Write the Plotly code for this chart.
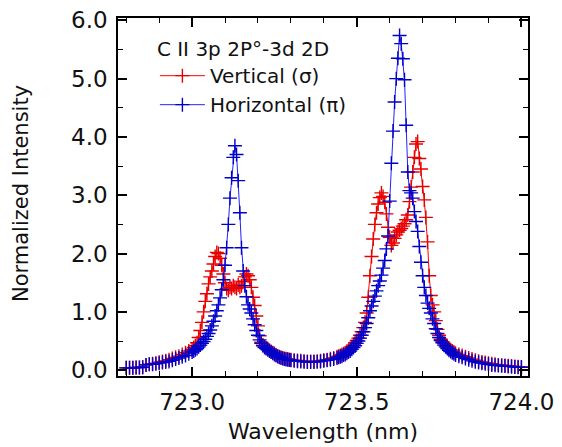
import plotly.graph_objects as go

# ---- data ----
wavelength_nm = [
    # 722.80 - 723.00 (0.01 nm)
    722.80, 722.81, 722.82, 722.83, 722.84, 722.85, 722.86, 722.87, 722.88, 722.89,
    722.90, 722.91, 722.92, 722.93, 722.94, 722.95, 722.96, 722.97, 722.98, 722.99,
    723.00,
    # 723.005 - 723.300 (0.005 nm)
    723.005, 723.010, 723.015, 723.020, 723.025, 723.030, 723.035, 723.040, 723.045, 723.050,
    723.055, 723.060, 723.065, 723.070, 723.075, 723.080, 723.085, 723.090, 723.095, 723.100,
    723.105, 723.110, 723.115, 723.120, 723.125, 723.130, 723.135, 723.140, 723.145, 723.150,
    723.155, 723.160, 723.165, 723.170, 723.175, 723.180, 723.185, 723.190, 723.195, 723.200,
    723.205, 723.210, 723.215, 723.220, 723.225, 723.230, 723.235, 723.240, 723.245, 723.250,
    723.255, 723.260, 723.265, 723.270, 723.275, 723.280, 723.285, 723.290, 723.295, 723.300,
    # 723.31 - 723.44 (0.01 nm)
    723.31, 723.32, 723.33, 723.34, 723.35, 723.36, 723.37, 723.38, 723.39, 723.40,
    723.41, 723.42, 723.43, 723.44,
    # 723.445 - 723.800 (0.005 nm)
    723.445, 723.450, 723.455, 723.460, 723.465, 723.470, 723.475, 723.480, 723.485, 723.490,
    723.495, 723.500, 723.505, 723.510, 723.515, 723.520, 723.525, 723.530, 723.535, 723.540,
    723.545, 723.550, 723.555, 723.560, 723.565, 723.570, 723.575, 723.580, 723.585, 723.590,
    723.595, 723.600, 723.605, 723.610, 723.615, 723.620, 723.625, 723.630, 723.635, 723.640,
    723.645, 723.650, 723.655, 723.660, 723.665, 723.670, 723.675, 723.680, 723.685, 723.690,
    723.695, 723.700, 723.705, 723.710, 723.715, 723.720, 723.725, 723.730, 723.735, 723.740,
    723.745, 723.750, 723.755, 723.760, 723.765, 723.770, 723.775, 723.780, 723.785, 723.790,
    723.795, 723.800,
    # 723.81 - 724.00 (0.01 nm)
    723.81, 723.82, 723.83, 723.84, 723.85, 723.86, 723.87, 723.88, 723.89, 723.90,
    723.91, 723.92, 723.93, 723.94, 723.95, 723.96, 723.97, 723.98, 723.99, 724.00,
]

vertical_sigma = [
    0.04, 0.04, 0.04, 0.045, 0.045, 0.05, 0.09, 0.10, 0.11, 0.12,
    0.135, 0.15, 0.16, 0.18, 0.20, 0.22, 0.24, 0.27, 0.30, 0.33,
    0.36,
    0.39, 0.42, 0.47, 0.56, 0.68, 0.82, 1.00, 1.18, 1.31, 1.48,
    1.60, 1.70, 1.82, 1.95, 2.02, 2.00, 1.92, 1.80, 1.65, 1.50,
    1.40, 1.37, 1.42, 1.40, 1.45, 1.42, 1.40, 1.46, 1.42, 1.45,
    1.52, 1.60, 1.65, 1.62, 1.55, 1.42, 1.25, 1.11, 0.93, 0.76,
    0.59, 0.48, 0.43, 0.40, 0.38, 0.36, 0.34, 0.32, 0.30, 0.285,
    0.26, 0.245, 0.23, 0.22, 0.21, 0.20, 0.195, 0.19, 0.185, 0.18,
    0.17, 0.165, 0.16, 0.155, 0.15, 0.15, 0.15, 0.155, 0.16, 0.17,
    0.18, 0.195, 0.21, 0.23,
    0.24, 0.25, 0.27, 0.28, 0.30, 0.32, 0.34, 0.37, 0.40, 0.43,
    0.47, 0.51, 0.55, 0.60, 0.66, 0.73, 0.82, 0.98, 1.25, 1.62,
    1.95, 2.25, 2.50, 2.70, 2.85, 2.96, 3.04, 2.98, 2.88, 2.68,
    2.45, 2.28, 2.14, 2.18, 2.26, 2.32, 2.37, 2.40, 2.43, 2.47,
    2.51, 2.58, 2.66, 2.89, 3.14, 3.40, 3.65, 3.88, 3.92, 3.63,
    3.45, 3.15, 2.92, 2.62, 2.20, 1.62, 1.28, 1.12, 1.00, 0.85,
    0.70, 0.60, 0.53, 0.49, 0.46, 0.43, 0.40, 0.37, 0.35, 0.33,
    0.31, 0.29,
    0.27, 0.25, 0.23, 0.21, 0.19, 0.17, 0.155, 0.14, 0.13, 0.12,
    0.11, 0.10, 0.09, 0.085, 0.08, 0.075, 0.07, 0.065, 0.06, 0.055,
]

horizontal_pi = [
    0.04, 0.04, 0.04, 0.045, 0.045, 0.05, 0.09, 0.10, 0.10, 0.11,
    0.12, 0.13, 0.14, 0.15, 0.17, 0.19, 0.21, 0.23, 0.25, 0.28,
    0.31,
    0.33, 0.35, 0.37, 0.40, 0.43, 0.46, 0.49, 0.53, 0.58, 0.63,
    0.69, 0.76, 0.84, 0.93, 1.02, 1.12, 1.24, 1.38, 1.55, 1.80,
    2.10, 2.50, 2.95, 3.30, 3.65, 3.85, 3.70, 3.25, 2.70, 2.10,
    1.70, 1.45, 1.26, 1.12, 1.05, 0.98, 0.88, 0.78, 0.68, 0.60,
    0.52, 0.46, 0.42, 0.39, 0.37, 0.35, 0.33, 0.31, 0.29, 0.27,
    0.25, 0.235, 0.22, 0.21, 0.20, 0.19, 0.185, 0.18, 0.175, 0.17,
    0.16, 0.155, 0.15, 0.145, 0.14, 0.14, 0.14, 0.145, 0.15, 0.16,
    0.17, 0.18, 0.19, 0.21,
    0.22, 0.23, 0.24, 0.26, 0.27, 0.29, 0.31, 0.33, 0.36, 0.39,
    0.42, 0.46, 0.50, 0.55, 0.60, 0.66, 0.73, 0.80, 0.90, 1.02,
    1.10, 1.18, 1.27, 1.36, 1.45, 1.53, 1.63, 1.75, 1.88, 2.08,
    2.30, 2.90, 3.55, 4.10, 4.60, 5.00, 5.35, 5.74, 5.60, 5.34,
    4.98, 4.20, 3.40, 3.08, 3.04, 2.95, 2.72, 2.55, 2.38, 2.12,
    1.85, 1.62, 1.42, 1.28, 1.15, 1.06, 0.98, 0.88, 0.80, 0.71,
    0.63, 0.56, 0.51, 0.47, 0.43, 0.40, 0.37, 0.34, 0.32, 0.30,
    0.28, 0.26,
    0.24, 0.22, 0.20, 0.18, 0.16, 0.145, 0.13, 0.12, 0.11, 0.10,
    0.09, 0.085, 0.08, 0.075, 0.07, 0.065, 0.06, 0.055, 0.05, 0.05,
]

assert len(wavelength_nm) == len(vertical_sigma) == len(horizontal_pi)

series_names = ["Vertical (σ)", "Horizontal (π)"]
legend_title = "C II 3p 2P°-3d 2D"
x_title = "Wavelength (nm)"
y_title = "Normalized Intensity"

FONT = "DejaVu Sans"
TXT = "#111111"

fig = go.Figure()
fig.add_trace(go.Scatter(
    x=wavelength_nm, y=vertical_sigma, name=series_names[0],
    mode="lines+markers",
    line=dict(color="#ff0000", width=1),
    marker=dict(symbol="cross-thin", size=10, color="#e80000",
                line=dict(color="#e80000", width=1.4)),
))
fig.add_trace(go.Scatter(
    x=wavelength_nm, y=horizontal_pi, name=series_names[1],
    mode="lines+markers",
    line=dict(color="#2222ff", width=1),
    marker=dict(symbol="cross-thin", size=10, color="#0000cc",
                line=dict(color="#0000cc", width=1.4)),
))

axis_common = dict(
    ticks="inside", ticklen=9, tickwidth=1.5, tickcolor="black",
    showline=True, linewidth=1.5, linecolor="black", mirror="allticks",
    showgrid=False, zeroline=False, automargin=False,
    ticklabeloverflow="allow",
    tickfont=dict(family=FONT, size=23, color=TXT),
)

# page has an 8 px body margin, so the figure is 8 px smaller and margins shifted
fig.update_layout(
    width=554, height=439,
    margin=dict(l=110, r=34, t=10, b=71, autoexpand=False),
    paper_bgcolor="white", plot_bgcolor="white",
    font=dict(family=FONT, color=TXT),
    showlegend=True,
    legend=dict(
        x=0.09, y=0.966, xanchor="left", yanchor="top",
        bgcolor="rgba(0,0,0,0)",
        font=dict(family=FONT, size=20, color=TXT),
        title=dict(text=legend_title, font=dict(family=FONT, size=20, color=TXT)),
        tracegroupgap=0, itemwidth=45,
    ),
    xaxis=dict(
        range=[722.775, 724.02], tick0=723.0, dtick=0.5, tickformat=".1f",
        minor=dict(dtick=0.1, tick0=723.0, ticks="inside", ticklen=5,
                   tickwidth=1.2, tickcolor="black"),
        ticklabelstandoff=5,
        **axis_common,
    ),
    yaxis=dict(
        range=[-0.1, 6.04], tick0=0, dtick=1.0, tickformat=".1f",
        minor=dict(dtick=0.5, tick0=0, ticks="inside", ticklen=5,
                   tickwidth=1.2, tickcolor="black"),
        ticklabelstandoff=4,
        **axis_common,
    ),
    annotations=[
        dict(text=x_title, xref="paper", yref="paper", x=0.5, y=-0.155,
             xanchor="center", yanchor="middle", showarrow=False,
             font=dict(family=FONT, size=22, color=TXT)),
        dict(text=y_title, xref="paper", yref="paper", x=-0.235, y=0.51,
             xanchor="center", yanchor="middle", showarrow=False, textangle=-90,
             font=dict(family=FONT, size=21, color=TXT)),
    ],
)

fig.write_html("out.html")
